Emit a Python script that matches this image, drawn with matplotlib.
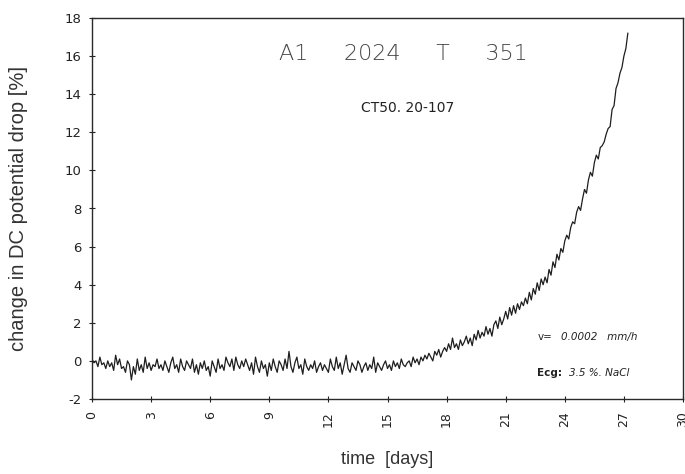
import numpy as np
import matplotlib
matplotlib.use("Agg")
import matplotlib.pyplot as plt

# change in DC potential drop [%], sampled every 0.1 day from day 0
potential_drop = [
    0.1, -0.1, 0.0, -0.3, 0.2, -0.2, -0.1, -0.4, 0.0, -0.3,
    -0.1, -0.5, 0.3, -0.2, 0.1, -0.4, -0.3, -0.6, 0.0, -0.2,
    -1.0, -0.3, -0.7, 0.1, -0.5, -0.2, -0.6, 0.2, -0.4, -0.1,
    -0.5, -0.2, -0.3, 0.1, -0.4, -0.2, -0.5, 0.0, -0.3, -0.6,
    -0.1, 0.2, -0.4, -0.2, -0.6, 0.1, -0.3, -0.5, 0.0, -0.2,
    -0.4, 0.1, -0.6, -0.2, -0.7, -0.1, -0.4, 0.0, -0.5, -0.3,
    -0.8, 0.0, -0.3, -0.6, 0.1, -0.4, -0.2, -0.5, 0.2, -0.1,
    -0.3, 0.1, -0.5, 0.2, -0.2, -0.4, 0.0, -0.3, 0.1, -0.2,
    -0.5, -0.1, -0.7, 0.2, -0.3, -0.6, 0.0, -0.4, -0.2, -0.8,
    -0.1, -0.5, 0.1, -0.3, -0.6, 0.0, -0.2, -0.5, 0.1, -0.4,
    0.5, -0.3, -0.6, -0.1, 0.2, -0.4, -0.2, -0.7, 0.1, -0.3,
    -0.5, -0.2, -0.4, 0.0, -0.6, -0.3, -0.1, -0.5, -0.2, -0.4,
    -0.6, 0.1, -0.3, -0.5, 0.2, -0.4, -0.1, -0.7, -0.2, 0.3,
    -0.4, -0.6, -0.1, -0.3, -0.5, 0.0, -0.2, -0.6, -0.3, -0.1,
    -0.5, -0.2, -0.4, 0.2, -0.6, -0.1, -0.3, -0.5, -0.2, 0.0,
    -0.4, -0.2, -0.5, 0.0, -0.3, -0.1, -0.4, 0.1, -0.2, -0.3,
    -0.1, 0.0, -0.3, 0.2, -0.1, 0.1, -0.2, 0.2, 0.0, 0.3,
    0.1, 0.4, 0.2, 0.0, 0.5, 0.3, 0.6, 0.2, 0.5, 0.7,
    0.5, 0.9, 0.6, 1.2, 0.7, 0.9, 0.6, 1.1, 0.8, 1.0,
    1.3, 0.9, 1.2, 0.8, 1.4, 1.1, 1.6, 1.2, 1.5, 1.3,
    1.8, 1.4, 1.7, 1.3, 1.9, 2.1, 1.7, 2.3, 1.9, 2.2,
    2.6, 2.2, 2.8, 2.4, 2.9, 2.5, 3.0, 2.7, 3.1, 2.9,
    3.3, 3.0, 3.6, 3.2, 3.8, 3.5, 4.1, 3.7, 4.3, 4.0,
    4.4, 4.1, 4.8, 4.5, 5.2, 4.9, 5.6, 5.3, 5.9, 5.7,
    6.3, 6.6, 6.4, 7.0, 7.3, 7.2, 7.8, 8.1, 7.9, 8.5,
    9.0, 8.8, 9.5, 9.9, 9.7, 10.4, 10.8, 10.6, 11.2, 11.3,
    11.5, 11.9, 12.2, 12.3, 13.2, 13.4, 14.3, 14.6, 15.1, 15.4,
    16.0, 16.4, 17.2,
]
time_step_days = 0.1
x_ticks = [0, 3, 6, 9, 12, 15, 18, 21, 24, 27, 30]
y_ticks = [-2, 0, 2, 4, 6, 8, 10, 12, 14, 16, 18]

time_days = np.arange(len(potential_drop)) * time_step_days

fig = plt.figure(figsize=(6.85, 4.74), dpi=100)
ax = fig.add_axes([92 / 685, 75 / 474, 591 / 685, 381 / 474])

ax.plot(time_days, potential_drop, color="#1e1e1e", lw=0.9)

ax.set_xlim(0, 30)
ax.set_ylim(-2, 18)
ax.set_xticks(x_ticks)
ax.set_yticks(y_ticks)
ax.set_xticklabels([str(t) for t in x_ticks], rotation=90, fontsize=9,
                   family="DejaVu Sans", color="#222222")
ax.set_yticklabels([str(t) for t in y_ticks], fontsize=9.5,
                   family="DejaVu Sans", color="#222222")
ax.tick_params(axis="both", direction="inout", length=5, width=0.8,
               colors="#222222")
ax.tick_params(axis="x", pad=6)
ax.tick_params(axis="y", pad=5)
for s in ax.spines.values():
    s.set_linewidth(1.0)
    s.set_color("#2a2a2a")

ax.set_ylabel("change in DC potential drop [%]", fontsize=14.5,
              family="Liberation Sans", color="#333333", va="center")
ax.yaxis.set_label_coords(-0.125, 0.5)
ax.set_xlabel("time  [days]", fontsize=13, family="Liberation Sans",
              color="#333333", va="center")
ax.xaxis.set_label_coords(0.5, -0.16)

ax.text(15.8, 16.1, "A1     2024     T     351", fontsize=16,
        fontweight="light", family="DejaVu Sans", ha="center", va="center",
        color="#444444")
ax.text(16.0, 13.3, "CT50. 20-107", fontsize=10, family="DejaVu Sans",
        ha="center", va="center", color="#222222")
ax.text(22.6, 1.25, "v=", fontsize=7.5, family="DejaVu Sans",
        ha="left", va="center", color="#222222")
ax.text(23.8, 1.25, "0.0002   mm/h", fontsize=7.5, family="DejaVu Sans",
        style="italic", ha="left", va="center", color="#222222")
ax.text(22.6, -0.65, "Ecg:", fontsize=7.5, family="DejaVu Sans",
        fontweight="bold", ha="left", va="center", color="#222222")
ax.text(24.2, -0.65, "3.5 %. NaCl", fontsize=7.5, family="DejaVu Sans",
        style="italic", ha="left", va="center", color="#222222")

fig.savefig("out.png", dpi=100)
